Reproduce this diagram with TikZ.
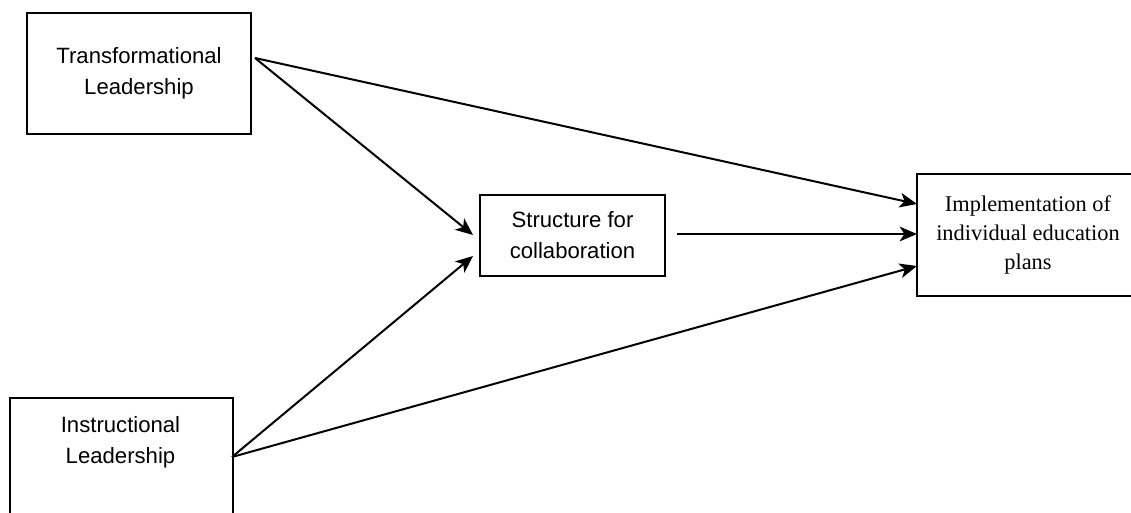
\documentclass[tikz,border=0pt]{standalone}
\usepackage{fontspec}
\setmainfont{Liberation Serif}
\newfontfamily\arialfont{Liberation Sans}
\usetikzlibrary{arrows.meta}
\tikzset{
  box/.style={draw, line width=1.6pt, rectangle, inner sep=0pt, align=center},
  sanslabel/.style={font=\arialfont\fontsize{16.6pt}{23.2pt}\selectfont, align=center},
  seriflabel/.style={font=\fontsize{16.8pt}{22.1pt}\selectfont, align=center},
  conn/.style={line width=1.5pt, -{Stealth[length=13pt, width=11pt, inset=3.5pt]}},
}
\begin{document}
\begin{tikzpicture}[x=0.75pt, y=-0.75pt]
\useasboundingbox (0,0) rectangle (1131,513);
\clip (0,0) rectangle (1131,513);
% boxes
\node (TL) [box, sanslabel, minimum width=224*0.75pt, minimum height=121*0.75pt] at (139,73.5) {Transformational\\Leadership};
\node (ILbox) [box, minimum width=223*0.75pt, minimum height=150*0.75pt, anchor=north west] at (9,397) {};
\node (IL) [sanslabel] at (120.5,442.5) {Instructional\\Leadership};
\node (SC) [box, sanslabel, minimum width=185*0.75pt, minimum height=81*0.75pt] at (572.5,235.5) {Structure for\\collaboration};
\node (IM) [box, seriflabel, minimum width=222*0.75pt, minimum height=122*0.75pt] at (1028,235) {Implementation of\\individual education\\plans};
% connector ends
\coordinate (TLout) at (255,58);
\coordinate (ILout) at (232,457);
\coordinate (SCout) at (677,234);
\coordinate (SCin1) at (473,235);
\coordinate (SCin2) at (473,256);
\coordinate (IMin1) at (917,204);
\coordinate (IMin2) at (917,234);
\coordinate (IMin3) at (917,266);
% connectors
\draw[conn] (TLout) -- (IMin1);
\draw[conn] (TLout) -- (SCin1);
\draw[conn] (ILout) -- (SCin2);
\draw[conn] (ILout) -- (IMin3);
\draw[conn] (SCout) -- (IMin2);
\end{tikzpicture}
\end{document}
